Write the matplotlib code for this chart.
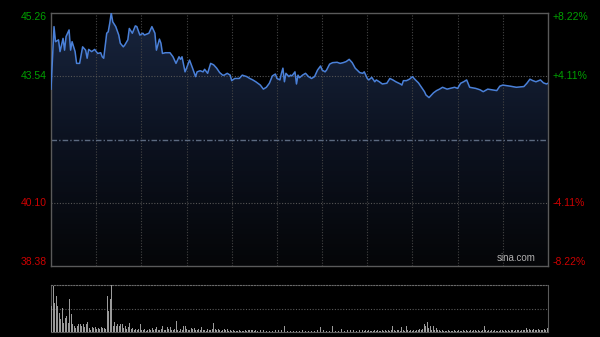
import numpy as np
import matplotlib
matplotlib.use('Agg')
import matplotlib.pyplot as plt
from matplotlib.colors import LinearSegmentedColormap

plt.rcParams['font.family'] = ['Liberation Sans', 'DejaVu Sans']

# HK session: 330 trading minutes, previous close 41.82
prev_close = 41.82
session_minutes = 330

minutes = [0, 2, 3, 5, 6, 8, 9, 10, 12, 13, 14, 16, 17, 19, 21, 23, 24, 25, 27, 29,
           31, 33, 34, 35, 37, 38, 39, 40, 41, 43, 45, 46, 48, 49, 51, 52, 54, 56, 57, 59,
           61, 62, 65, 66, 67, 69, 70, 72, 73, 74, 76, 79, 81, 83, 85, 86, 87, 89, 90, 92,
           94, 96, 97, 99, 101, 102, 104, 106, 108, 110, 112, 114, 115, 117, 119, 120, 122, 124, 125, 127,
           130, 132, 134, 136, 139, 141, 143, 145, 147, 149, 150, 152, 153, 154, 155, 156, 158, 159, 160, 162,
           163, 164, 165, 167, 169, 171, 173, 175, 177, 179, 180, 182, 183, 185, 187, 190, 192, 194, 196, 198,
           200, 202, 205, 207, 208, 210, 211, 213, 215, 216, 218, 220, 223, 225, 227, 229, 232, 233, 234, 236,
           238, 240, 242, 244, 246, 248, 249, 251, 254, 256, 258, 260, 263, 265, 268, 270, 272, 274, 276, 278,
           282, 285, 287, 290, 293, 296, 298, 300, 305, 309, 314, 316, 318, 320, 322, 325, 327, 329, 330]

prices = [43.19, 44.89, 44.48, 44.53, 44.21, 44.57, 44.25, 44.62, 44.80, 44.25, 44.48, 44.21, 43.89, 43.89, 44.34, 44.25, 44.03, 44.27, 44.21, 44.27,
          44.16, 44.18, 44.07, 44.03, 44.71, 44.75, 44.98, 45.26, 45.02, 44.89, 44.66, 44.44, 44.34, 44.39, 44.53, 44.84, 44.71, 44.91, 44.89, 44.66,
          44.71, 44.66, 44.71, 44.80, 44.89, 44.71, 44.25, 44.55, 44.44, 44.16, 44.18, 44.18, 44.07, 43.89, 44.07, 44.00, 44.07, 43.66, 43.76, 43.98,
          43.76, 43.53, 43.66, 43.69, 43.66, 43.73, 43.62, 43.89, 43.85, 43.76, 43.64, 43.57, 43.57, 43.62, 43.57, 43.42, 43.48, 43.48, 43.48, 43.57,
          43.53, 43.48, 43.44, 43.39, 43.30, 43.19, 43.24, 43.35, 43.55, 43.60, 43.48, 43.44, 43.62, 43.76, 43.39, 43.62, 43.53, 43.57, 43.55, 43.66,
          43.33, 43.57, 43.50, 43.57, 43.62, 43.53, 43.48, 43.53, 43.71, 43.82, 43.71, 43.66, 43.71, 43.87, 43.91, 43.92, 43.89, 43.91, 43.94, 44.00,
          43.91, 43.76, 43.64, 43.62, 43.66, 43.48, 43.44, 43.51, 43.39, 43.44, 43.39, 43.33, 43.35, 43.48, 43.44, 43.39, 43.33, 43.30, 43.42, 43.42,
          43.46, 43.53, 43.44, 43.36, 43.24, 43.12, 43.03, 42.96, 43.09, 43.15, 43.19, 43.24, 43.19, 43.21, 43.24, 43.21, 43.35, 43.39, 43.44, 43.24,
          43.21, 43.17, 43.12, 43.19, 43.17, 43.15, 43.27, 43.30, 43.27, 43.24, 43.26, 43.35, 43.46, 43.42, 43.39, 43.44, 43.36, 43.33, 43.35]

# per-minute volume (relative units), minutes 0..330
volumes = [56, 98, 62, 77, 55, 40, 28, 51, 19, 30,
           33, 19, 70, 39, 16, 12, 9, 13, 16, 18,
           12, 16, 10, 16, 21, 9, 5, 10, 9, 10,
           6, 9, 6, 10, 8, 9, 7, 77, 44, 70,
           100, 12, 21, 13, 16, 12, 18, 18, 9, 12,
           6, 10, 19, 6, 8, 5, 7, 4, 6, 16,
           5, 4, 6, 3, 5, 7, 4, 9, 5, 6,
           10, 5, 4, 6, 13, 5, 4, 10, 6, 10,
           5, 4, 6, 24, 5, 3, 6, 4, 12, 13,
           6, 5, 4, 9, 7, 9, 5, 4, 6, 5,
           10, 4, 5, 3, 6, 4, 5, 7, 19, 6,
           4, 6, 5, 3, 4, 6, 4, 6, 3, 4,
           3, 4, 3, 2, 3, 4, 3, 2, 3, 4,
           3, 5, 4, 5, 5, 3, 4, 2, 3, 4,
           3, 4, 2, 3, 5, 3, 4, 3, 2, 4,
           3, 4, 3, 5, 4, 12, 3, 2, 3, 3,
           2, 3, 4, 3, 2, 3, 3, 4, 2, 3,
           3, 2, 4, 3, 5, 3, 2, 4, 3, 10,
           3, 4, 5, 3, 4, 2, 3, 12, 4, 3,
           5, 3, 4, 6, 10, 3, 4, 5, 3, 4,
           5, 4, 16, 3, 4, 5, 3, 4, 3, 5,
           3, 4, 3, 2, 3, 4, 3, 4, 2, 3,
           4, 3, 5, 3, 4, 3, 5, 13, 4, 3,
           5, 4, 3, 10, 4, 3, 12, 4, 3, 5,
           3, 4, 3, 5, 4, 6, 5, 7, 16, 12,
           22, 8, 12, 5, 13, 4, 9, 5, 4, 3,
           4, 3, 2, 3, 4, 3, 2, 3, 4, 3,
           3, 4, 2, 3, 5, 3, 4, 3, 2, 4,
           3, 4, 5, 3, 4, 3, 3, 4, 12, 4,
           3, 4, 3, 5, 3, 4, 3, 2, 3, 4,
           5, 3, 4, 3, 4, 3, 5, 4, 3, 5,
           4, 5, 3, 5, 4, 4, 9, 5, 6, 5,
           4, 6, 5, 4, 6, 5, 5, 4, 6, 5,
           9]

left_labels = ['45.26', '43.54', '40.10', '38.38']
left_values = [45.26, 43.54, 40.10, 38.38]
right_labels = ['+8.22%', '+4.11%', '-4.11%', '-8.22%']
label_colors = ['#00a000', '#00a000', '#cc0000', '#cc0000']

lo, hi = 38.38, 45.26

fig = plt.figure(figsize=(6, 3.37), dpi=100, facecolor='black')
ax = fig.add_axes([0.085, 0.2107, 0.8283, 0.7507], facecolor='black')
axv = fig.add_axes([0.085, 0.0148, 0.8283, 0.1395], facecolor='black')

ax.set_xlim(0, session_minutes)
ax.set_ylim(lo, hi)

# gradient fill under the price line
grad = LinearSegmentedColormap.from_list('g', ['#050608', '#0c1220', '#18253e'])
img = ax.imshow(np.linspace(0, 1, 256).reshape(-1, 1), cmap=grad, aspect='auto',
                extent=[0, session_minutes, lo, hi], origin='lower', zorder=1)
fill = ax.fill_between(minutes, prices, lo, color='none', zorder=1)
img.set_clip_path(fill.get_paths()[0], transform=ax.transData)

ax.plot(minutes, prices, color='#4a80d8', lw=1.1, zorder=4)

# grid
for m in range(30, session_minutes, 30):
    ax.axvline(m, color='#444444', lw=0.8, ls=(0, (1, 1.5)), zorder=2)
for v in [43.54, 40.10]:
    ax.axhline(v, color='#555555', lw=0.8, ls=(0, (1, 1.5)), zorder=2)
ax.axhline(prev_close, color='#5c6a80', lw=1.0, ls=(0, (4, 1.5, 1, 1.5)), zorder=2)

for s in ax.spines.values():
    s.set_color('#5a5a5a')
    s.set_linewidth(1.0)
ax.set_xticks([])
ax.set_yticks([])

vas = ['top', 'center', 'center', 'bottom']
for lab, val, rl, col, va in zip(left_labels, left_values, right_labels, label_colors, vas):
    yy = (val - lo) / (hi - lo)
    if va == 'top':
        yy = 1.003
    elif va == 'bottom':
        yy = -0.003
    ax.text(-0.008, yy, lab, transform=ax.transAxes,
            ha='right', va=va, color=col, fontsize=7.5)
    ax.text(1.01, yy, rl, transform=ax.transAxes,
            ha='left', va=va, color=col, fontsize=7.5)

ax.text(0.975, 0.012, 'sina.com', transform=ax.transAxes, ha='right', va='bottom',
        color='#b0b0b0', fontsize=7)

# volume panel
vol_x = np.arange(len(volumes))
axv.bar(vol_x, volumes, width=0.6, color='#9a9a9a', align='center', zorder=3)
axv.set_xlim(-0.5, session_minutes + 0.5)
axv.set_ylim(0, max(volumes))
axv.axhline(max(volumes) / 2, color='#5a5a5a', lw=0.8, ls=(0, (1, 1.5)))
axv.spines['top'].set_color('#6a6a6a')
axv.spines['top'].set_linestyle((0, (1, 1.5)))
for k in ['left', 'right', 'bottom']:
    axv.spines[k].set_color('#5a5a5a')
axv.set_xticks([])
axv.set_yticks([])

fig.savefig('out.png', dpi=100, facecolor='black')
